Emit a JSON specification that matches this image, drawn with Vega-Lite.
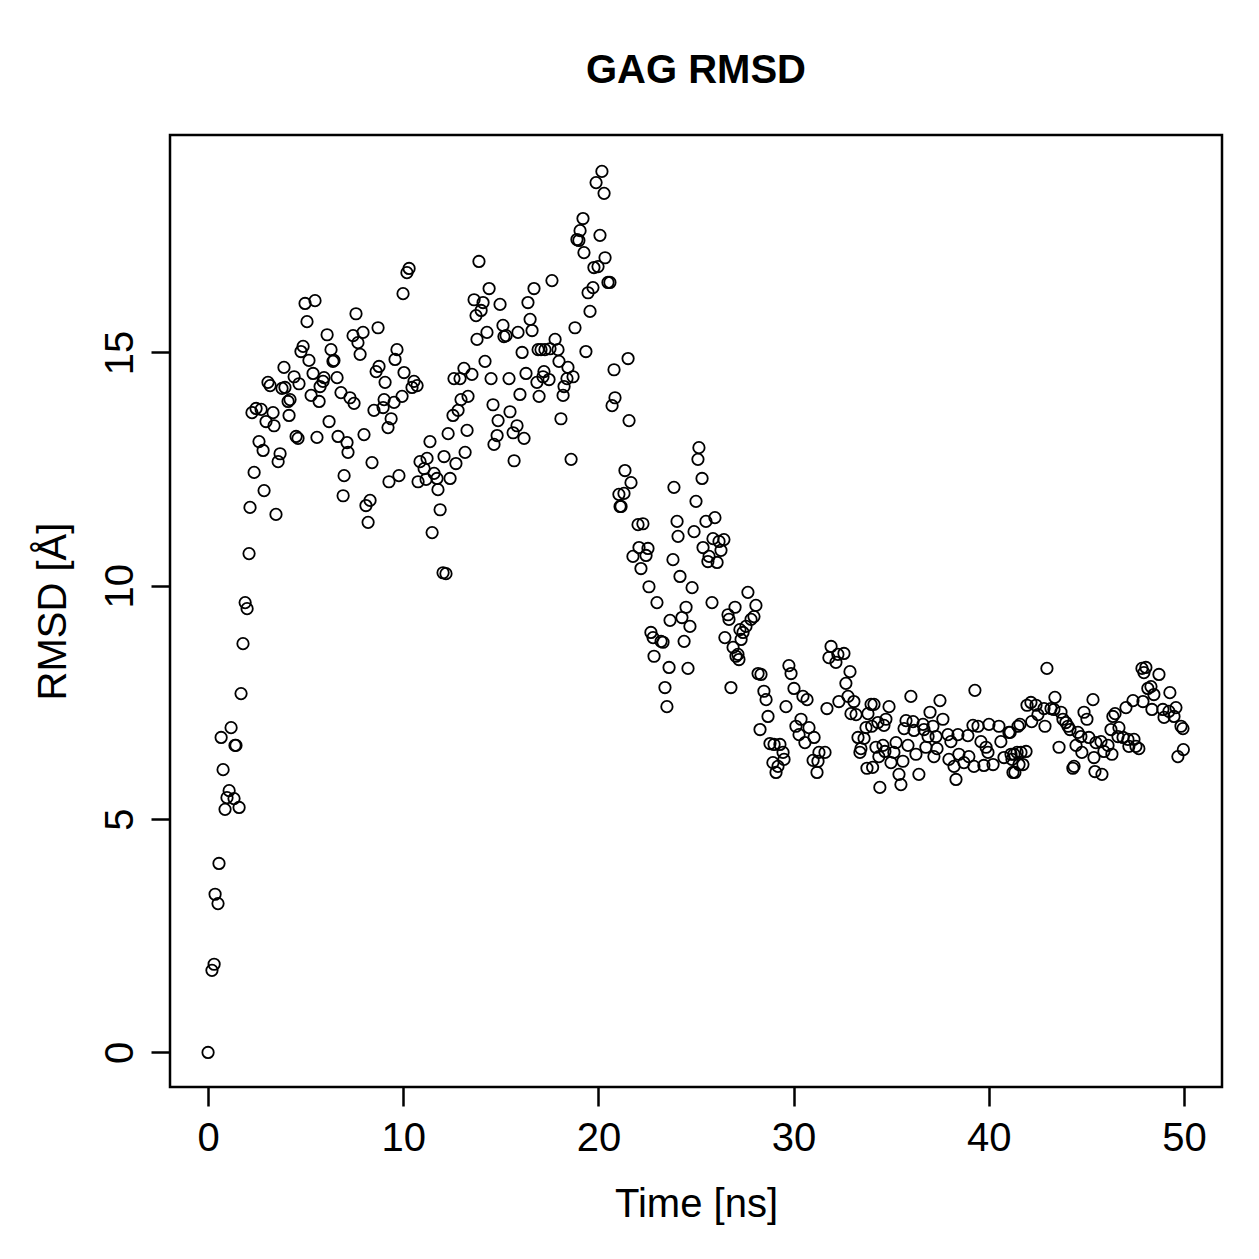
{
  "$schema": "https://vega.github.io/schema/vega-lite/v6.json",
  "width": 1052,
  "height": 952,
  "autosize": {"type": "none"},
  "padding": {"left": 170, "top": 135, "right": 37, "bottom": 172},
  "background": "white",
  "title": {
    "text": "GAG RMSD",
    "font": "Liberation Sans",
    "fontSize": 40,
    "fontWeight": "bold",
    "color": "black",
    "anchor": "middle",
    "baseline": "alphabetic",
    "offset": 12
  },
  "data": {
    "values": [
      {"t": 0.0, "r": 0.0}, {"t": 0.2, "r": 1.76}, {"t": 0.31, "r": 1.89}, {"t": 0.36, "r": 3.39}, {"t": 0.51, "r": 3.19},
      {"t": 0.56, "r": 4.05}, {"t": 0.67, "r": 6.75}, {"t": 0.77, "r": 6.06}, {"t": 0.87, "r": 5.21}, {"t": 0.97, "r": 5.46},
      {"t": 1.08, "r": 5.61}, {"t": 1.18, "r": 6.96}, {"t": 1.33, "r": 5.44}, {"t": 1.38, "r": 6.58}, {"t": 1.43, "r": 6.58},
      {"t": 1.59, "r": 5.25}, {"t": 1.69, "r": 7.69}, {"t": 1.79, "r": 8.76}, {"t": 1.9, "r": 9.64}, {"t": 2.0, "r": 9.51},
      {"t": 2.1, "r": 10.69}, {"t": 2.15, "r": 11.68}, {"t": 2.25, "r": 13.71}, {"t": 2.36, "r": 12.43}, {"t": 2.46, "r": 13.8},
      {"t": 2.61, "r": 13.09}, {"t": 2.72, "r": 13.78}, {"t": 2.82, "r": 12.9}, {"t": 2.87, "r": 12.04}, {"t": 2.97, "r": 13.52},
      {"t": 3.07, "r": 14.36}, {"t": 3.18, "r": 14.29}, {"t": 3.33, "r": 13.71}, {"t": 3.38, "r": 13.43}, {"t": 3.48, "r": 11.53},
      {"t": 3.59, "r": 12.66}, {"t": 3.69, "r": 12.83}, {"t": 3.79, "r": 14.23}, {"t": 3.89, "r": 14.68}, {"t": 3.94, "r": 14.25},
      {"t": 4.1, "r": 13.95}, {"t": 4.15, "r": 13.65}, {"t": 4.2, "r": 13.99}, {"t": 4.41, "r": 14.48}, {"t": 4.51, "r": 13.2},
      {"t": 4.61, "r": 13.16}, {"t": 4.66, "r": 14.33}, {"t": 4.76, "r": 15.02}, {"t": 4.87, "r": 15.13}, {"t": 4.97, "r": 16.05},
      {"t": 5.07, "r": 15.66}, {"t": 5.17, "r": 14.83}, {"t": 5.28, "r": 14.08}, {"t": 5.38, "r": 14.55}, {"t": 5.48, "r": 16.11},
      {"t": 5.58, "r": 13.18}, {"t": 5.69, "r": 13.95}, {"t": 5.74, "r": 14.27}, {"t": 5.89, "r": 14.38}, {"t": 5.94, "r": 14.46},
      {"t": 6.1, "r": 15.38}, {"t": 6.2, "r": 13.52}, {"t": 6.3, "r": 15.06}, {"t": 6.4, "r": 14.81}, {"t": 6.45, "r": 14.83},
      {"t": 6.61, "r": 14.46}, {"t": 6.66, "r": 13.2}, {"t": 6.81, "r": 14.14}, {"t": 6.92, "r": 11.93}, {"t": 6.97, "r": 12.36},
      {"t": 7.12, "r": 13.07}, {"t": 7.17, "r": 12.86}, {"t": 7.27, "r": 14.03}, {"t": 7.43, "r": 15.36}, {"t": 7.48, "r": 13.91},
      {"t": 7.58, "r": 15.83}, {"t": 7.68, "r": 15.21}, {"t": 7.79, "r": 14.96}, {"t": 7.94, "r": 15.43}, {"t": 7.99, "r": 13.24},
      {"t": 8.09, "r": 11.72}, {"t": 8.2, "r": 11.36}, {"t": 8.3, "r": 11.83}, {"t": 8.4, "r": 12.64}, {"t": 8.5, "r": 13.76},
      {"t": 8.61, "r": 14.59}, {"t": 8.71, "r": 15.53}, {"t": 8.76, "r": 14.7}, {"t": 8.97, "r": 13.82}, {"t": 9.02, "r": 13.99},
      {"t": 9.07, "r": 14.36}, {"t": 9.22, "r": 13.39}, {"t": 9.27, "r": 12.23}, {"t": 9.38, "r": 13.58}, {"t": 9.53, "r": 13.93},
      {"t": 9.58, "r": 14.85}, {"t": 9.68, "r": 15.06}, {"t": 9.78, "r": 12.36}, {"t": 9.94, "r": 14.06}, {"t": 9.99, "r": 16.26},
      {"t": 10.04, "r": 14.57}, {"t": 10.19, "r": 16.71}, {"t": 10.3, "r": 16.8}, {"t": 10.45, "r": 14.25}, {"t": 10.55, "r": 14.38},
      {"t": 10.71, "r": 14.29}, {"t": 10.76, "r": 12.23}, {"t": 10.86, "r": 12.66}, {"t": 11.07, "r": 12.51}, {"t": 11.22, "r": 12.73},
      {"t": 11.17, "r": 12.28}, {"t": 11.37, "r": 13.09}, {"t": 11.48, "r": 11.14}, {"t": 11.58, "r": 12.41}, {"t": 11.73, "r": 12.3},
      {"t": 11.78, "r": 12.06}, {"t": 11.89, "r": 11.63}, {"t": 12.04, "r": 10.28}, {"t": 12.09, "r": 12.77}, {"t": 12.19, "r": 10.26},
      {"t": 12.3, "r": 13.26}, {"t": 12.4, "r": 12.3}, {"t": 12.55, "r": 13.65}, {"t": 12.6, "r": 14.44}, {"t": 12.7, "r": 12.62},
      {"t": 12.81, "r": 13.76}, {"t": 12.91, "r": 14.44}, {"t": 12.96, "r": 13.99}, {"t": 13.11, "r": 14.66}, {"t": 13.17, "r": 12.86},
      {"t": 13.27, "r": 13.33}, {"t": 13.32, "r": 14.06}, {"t": 13.52, "r": 14.53}, {"t": 13.63, "r": 16.13}, {"t": 13.73, "r": 15.79},
      {"t": 13.78, "r": 15.28}, {"t": 13.88, "r": 16.95}, {"t": 13.99, "r": 15.9}, {"t": 14.09, "r": 16.07}, {"t": 14.19, "r": 14.81},
      {"t": 14.29, "r": 15.43}, {"t": 14.4, "r": 16.37}, {"t": 14.5, "r": 14.44}, {"t": 14.6, "r": 13.88}, {"t": 14.65, "r": 13.03},
      {"t": 14.81, "r": 13.22}, {"t": 14.86, "r": 13.54}, {"t": 14.96, "r": 16.03}, {"t": 15.11, "r": 15.58}, {"t": 15.16, "r": 15.34},
      {"t": 15.27, "r": 15.36}, {"t": 15.42, "r": 14.44}, {"t": 15.47, "r": 13.73}, {"t": 15.63, "r": 13.28}, {"t": 15.68, "r": 12.68},
      {"t": 15.83, "r": 13.43}, {"t": 15.88, "r": 15.43}, {"t": 15.98, "r": 14.1}, {"t": 16.09, "r": 15.0}, {"t": 16.19, "r": 13.16},
      {"t": 16.29, "r": 14.55}, {"t": 16.39, "r": 16.07}, {"t": 16.5, "r": 15.71}, {"t": 16.6, "r": 15.47}, {"t": 16.7, "r": 16.37},
      {"t": 16.85, "r": 14.36}, {"t": 16.91, "r": 15.06}, {"t": 16.96, "r": 14.06}, {"t": 17.06, "r": 15.06}, {"t": 17.16, "r": 14.48},
      {"t": 17.21, "r": 14.59}, {"t": 17.26, "r": 15.06}, {"t": 17.52, "r": 15.08}, {"t": 17.47, "r": 14.42}, {"t": 17.62, "r": 16.54},
      {"t": 17.78, "r": 15.28}, {"t": 17.93, "r": 15.06}, {"t": 17.98, "r": 14.81}, {"t": 18.08, "r": 13.58}, {"t": 18.19, "r": 14.08},
      {"t": 18.24, "r": 14.27}, {"t": 18.44, "r": 14.68}, {"t": 18.39, "r": 14.44}, {"t": 18.6, "r": 12.71}, {"t": 18.7, "r": 14.48},
      {"t": 18.8, "r": 15.53}, {"t": 18.9, "r": 17.42}, {"t": 19.0, "r": 17.4}, {"t": 19.06, "r": 17.61}, {"t": 19.21, "r": 17.87},
      {"t": 19.26, "r": 17.14}, {"t": 19.36, "r": 15.02}, {"t": 19.47, "r": 16.28}, {"t": 19.57, "r": 15.88}, {"t": 19.72, "r": 16.39},
      {"t": 19.77, "r": 16.82}, {"t": 19.88, "r": 18.64}, {"t": 19.98, "r": 16.84}, {"t": 20.08, "r": 17.51}, {"t": 20.18, "r": 18.88},
      {"t": 20.29, "r": 18.41}, {"t": 20.34, "r": 17.03}, {"t": 20.49, "r": 16.5}, {"t": 20.59, "r": 16.5}, {"t": 20.7, "r": 13.86},
      {"t": 20.8, "r": 14.63}, {"t": 20.85, "r": 14.03}, {"t": 21.05, "r": 11.96}, {"t": 21.11, "r": 11.7}, {"t": 21.16, "r": 11.7},
      {"t": 21.31, "r": 11.98}, {"t": 21.36, "r": 12.47}, {"t": 21.52, "r": 14.87}, {"t": 21.57, "r": 13.54}, {"t": 21.67, "r": 12.21},
      {"t": 21.77, "r": 10.63}, {"t": 22.03, "r": 11.31}, {"t": 22.08, "r": 10.82}, {"t": 22.18, "r": 10.37}, {"t": 22.28, "r": 11.33},
      {"t": 22.44, "r": 10.65}, {"t": 22.54, "r": 10.8}, {"t": 22.59, "r": 9.98}, {"t": 22.69, "r": 9.0}, {"t": 22.8, "r": 8.89},
      {"t": 22.85, "r": 8.49}, {"t": 23.0, "r": 9.64}, {"t": 23.21, "r": 8.81}, {"t": 23.31, "r": 8.79}, {"t": 23.41, "r": 7.82},
      {"t": 23.51, "r": 7.41}, {"t": 23.62, "r": 8.25}, {"t": 23.67, "r": 9.26}, {"t": 23.82, "r": 10.56}, {"t": 23.87, "r": 12.11},
      {"t": 24.03, "r": 11.38}, {"t": 24.08, "r": 11.06}, {"t": 24.18, "r": 10.2}, {"t": 24.28, "r": 9.32}, {"t": 24.39, "r": 8.81},
      {"t": 24.49, "r": 9.54}, {"t": 24.59, "r": 8.23}, {"t": 24.69, "r": 9.13}, {"t": 24.8, "r": 9.96}, {"t": 24.9, "r": 11.16},
      {"t": 25.0, "r": 11.81}, {"t": 25.1, "r": 12.71}, {"t": 25.15, "r": 12.96}, {"t": 25.31, "r": 12.3}, {"t": 25.36, "r": 10.82},
      {"t": 25.51, "r": 11.38}, {"t": 25.61, "r": 10.52}, {"t": 25.67, "r": 10.63}, {"t": 25.82, "r": 9.64}, {"t": 25.87, "r": 11.01},
      {"t": 25.97, "r": 11.46}, {"t": 26.08, "r": 10.5}, {"t": 26.18, "r": 10.95}, {"t": 26.28, "r": 10.76}, {"t": 26.43, "r": 10.99},
      {"t": 26.48, "r": 8.89}, {"t": 26.64, "r": 9.38}, {"t": 26.69, "r": 9.28}, {"t": 26.79, "r": 7.82}, {"t": 26.9, "r": 8.68},
      {"t": 27.0, "r": 9.54}, {"t": 27.05, "r": 8.49}, {"t": 27.15, "r": 8.53}, {"t": 27.2, "r": 8.42}, {"t": 27.25, "r": 9.06},
      {"t": 27.31, "r": 8.85}, {"t": 27.41, "r": 9.0}, {"t": 27.56, "r": 9.13}, {"t": 27.66, "r": 9.86}, {"t": 27.82, "r": 9.28},
      {"t": 27.97, "r": 9.34}, {"t": 28.07, "r": 9.58}, {"t": 28.18, "r": 8.12}, {"t": 28.28, "r": 6.92}, {"t": 28.33, "r": 8.1},
      {"t": 28.48, "r": 7.74}, {"t": 28.59, "r": 7.56}, {"t": 28.69, "r": 7.2}, {"t": 28.79, "r": 6.62}, {"t": 28.94, "r": 6.21},
      {"t": 29.0, "r": 6.6}, {"t": 29.1, "r": 6.0}, {"t": 29.2, "r": 6.13}, {"t": 29.3, "r": 6.6}, {"t": 29.46, "r": 6.43},
      {"t": 29.51, "r": 6.28}, {"t": 29.61, "r": 7.41}, {"t": 29.76, "r": 8.29}, {"t": 29.87, "r": 8.12}, {"t": 30.02, "r": 7.8},
      {"t": 30.12, "r": 6.99}, {"t": 30.28, "r": 6.81}, {"t": 30.38, "r": 7.14}, {"t": 30.48, "r": 7.63}, {"t": 30.58, "r": 6.64},
      {"t": 30.69, "r": 7.56}, {"t": 30.79, "r": 6.96}, {"t": 31.0, "r": 6.26}, {"t": 31.05, "r": 6.75}, {"t": 31.2, "r": 6.0},
      {"t": 31.25, "r": 6.24}, {"t": 31.3, "r": 6.43}, {"t": 31.61, "r": 6.43}, {"t": 31.71, "r": 7.37}, {"t": 31.81, "r": 8.46},
      {"t": 31.92, "r": 8.7}, {"t": 32.17, "r": 8.36}, {"t": 32.27, "r": 8.53}, {"t": 32.32, "r": 7.52}, {"t": 32.58, "r": 8.55},
      {"t": 32.68, "r": 7.91}, {"t": 32.79, "r": 7.63}, {"t": 32.89, "r": 8.16}, {"t": 32.94, "r": 7.26}, {"t": 33.09, "r": 7.52},
      {"t": 33.2, "r": 7.24}, {"t": 33.3, "r": 6.75}, {"t": 33.4, "r": 6.43}, {"t": 33.45, "r": 6.51}, {"t": 33.61, "r": 6.73},
      {"t": 33.71, "r": 6.96}, {"t": 33.76, "r": 6.09}, {"t": 33.81, "r": 7.26}, {"t": 33.97, "r": 7.46}, {"t": 34.0, "r": 6.99},
      {"t": 34.05, "r": 6.11}, {"t": 34.12, "r": 7.46}, {"t": 34.22, "r": 6.54}, {"t": 34.32, "r": 7.07}, {"t": 34.37, "r": 6.34},
      {"t": 34.42, "r": 5.68}, {"t": 34.58, "r": 6.58}, {"t": 34.63, "r": 7.01}, {"t": 34.68, "r": 6.45}, {"t": 34.73, "r": 7.14},
      {"t": 34.89, "r": 7.41}, {"t": 34.99, "r": 6.21}, {"t": 35.14, "r": 6.43}, {"t": 35.25, "r": 6.64}, {"t": 35.4, "r": 5.96},
      {"t": 35.5, "r": 5.74}, {"t": 35.6, "r": 6.24}, {"t": 35.66, "r": 6.94}, {"t": 35.76, "r": 7.11}, {"t": 35.86, "r": 6.58},
      {"t": 36.01, "r": 7.63}, {"t": 36.12, "r": 7.09}, {"t": 36.17, "r": 6.9}, {"t": 36.27, "r": 6.39}, {"t": 36.42, "r": 5.96},
      {"t": 36.63, "r": 7.03}, {"t": 36.68, "r": 6.92}, {"t": 36.78, "r": 6.54}, {"t": 36.89, "r": 6.77}, {"t": 36.99, "r": 7.29},
      {"t": 37.14, "r": 6.99}, {"t": 37.19, "r": 6.34}, {"t": 37.3, "r": 6.77}, {"t": 37.35, "r": 6.51}, {"t": 37.5, "r": 7.54},
      {"t": 37.65, "r": 7.14}, {"t": 37.91, "r": 6.81}, {"t": 37.96, "r": 6.28}, {"t": 38.06, "r": 6.66}, {"t": 38.22, "r": 6.13},
      {"t": 38.32, "r": 5.85}, {"t": 38.42, "r": 6.81}, {"t": 38.47, "r": 6.39}, {"t": 38.73, "r": 6.21}, {"t": 38.93, "r": 6.79},
      {"t": 38.98, "r": 6.34}, {"t": 39.19, "r": 7.01}, {"t": 39.24, "r": 6.13}, {"t": 39.29, "r": 7.76}, {"t": 39.45, "r": 6.99},
      {"t": 39.6, "r": 6.66}, {"t": 39.75, "r": 6.15}, {"t": 39.86, "r": 6.54}, {"t": 39.96, "r": 6.43}, {"t": 40.01, "r": 7.03},
      {"t": 40.22, "r": 6.17}, {"t": 40.52, "r": 6.99}, {"t": 40.62, "r": 6.66}, {"t": 40.78, "r": 6.32}, {"t": 41.03, "r": 6.86},
      {"t": 41.1, "r": 6.86}, {"t": 41.14, "r": 6.39}, {"t": 41.19, "r": 6.28}, {"t": 41.24, "r": 6.0}, {"t": 41.29, "r": 6.39},
      {"t": 41.34, "r": 6.0}, {"t": 41.45, "r": 6.43}, {"t": 41.5, "r": 6.99}, {"t": 41.55, "r": 6.17}, {"t": 41.6, "r": 7.03},
      {"t": 41.65, "r": 6.43}, {"t": 41.75, "r": 6.17}, {"t": 41.91, "r": 6.45}, {"t": 41.96, "r": 7.44}, {"t": 42.16, "r": 7.5},
      {"t": 42.2, "r": 7.09}, {"t": 42.42, "r": 7.44}, {"t": 42.52, "r": 7.24}, {"t": 42.83, "r": 7.37}, {"t": 42.88, "r": 6.99},
      {"t": 42.98, "r": 8.23}, {"t": 43.19, "r": 7.37}, {"t": 43.34, "r": 7.35}, {"t": 43.39, "r": 7.61}, {"t": 43.6, "r": 6.54},
      {"t": 43.7, "r": 7.29}, {"t": 43.8, "r": 7.14}, {"t": 43.95, "r": 7.07}, {"t": 44.06, "r": 6.99}, {"t": 44.16, "r": 6.92},
      {"t": 44.31, "r": 6.09}, {"t": 44.37, "r": 6.13}, {"t": 44.47, "r": 6.58}, {"t": 44.57, "r": 6.86}, {"t": 44.72, "r": 6.77},
      {"t": 44.77, "r": 6.43}, {"t": 44.88, "r": 7.29}, {"t": 45.03, "r": 7.14}, {"t": 45.13, "r": 6.75}, {"t": 45.34, "r": 7.56},
      {"t": 45.39, "r": 6.32}, {"t": 45.44, "r": 6.02}, {"t": 45.49, "r": 6.64}, {"t": 45.75, "r": 6.66}, {"t": 45.8, "r": 5.96},
      {"t": 45.9, "r": 6.45}, {"t": 46.11, "r": 6.58}, {"t": 46.26, "r": 6.92}, {"t": 46.31, "r": 6.39}, {"t": 46.36, "r": 7.2},
      {"t": 46.47, "r": 7.26}, {"t": 46.62, "r": 6.77}, {"t": 46.67, "r": 6.96}, {"t": 46.88, "r": 6.75}, {"t": 47.03, "r": 7.39},
      {"t": 47.13, "r": 6.71}, {"t": 47.18, "r": 6.56}, {"t": 47.39, "r": 7.54}, {"t": 47.44, "r": 6.71}, {"t": 47.54, "r": 6.56},
      {"t": 47.69, "r": 6.51}, {"t": 47.85, "r": 8.23}, {"t": 47.9, "r": 7.52}, {"t": 47.95, "r": 8.14}, {"t": 48.05, "r": 8.25},
      {"t": 48.15, "r": 7.8}, {"t": 48.31, "r": 7.84}, {"t": 48.36, "r": 7.35}, {"t": 48.46, "r": 7.67}, {"t": 48.72, "r": 8.1},
      {"t": 48.92, "r": 7.35}, {"t": 48.98, "r": 7.18}, {"t": 49.23, "r": 7.31}, {"t": 49.28, "r": 7.71}, {"t": 49.49, "r": 7.2},
      {"t": 49.59, "r": 7.39}, {"t": 49.69, "r": 6.34}, {"t": 49.85, "r": 6.99}, {"t": 49.95, "r": 6.94}, {"t": 49.97, "r": 6.49}
    ]
  },
  "mark": {
    "type": "point",
    "shape": "circle",
    "filled": false,
    "size": 130,
    "strokeWidth": 1.8,
    "color": "black",
    "opacity": 1
  },
  "encoding": {
    "x": {
      "field": "t",
      "type": "quantitative",
      "scale": {"domain": [-1.95, 51.95], "nice": false, "zero": false},
      "axis": {
        "values": [0, 10, 20, 30, 40, 50],
        "labelBaseline": "alphabetic",
        "labelPadding": 44,
        "title": "Time [ns]",
        "titleX": 526,
        "titleY": 129,
        "titleAlign": "center",
        "titleBaseline": "alphabetic"
      }
    },
    "y": {
      "field": "r",
      "type": "quantitative",
      "scale": {"domain": [-0.74, 19.66], "nice": false, "zero": false},
      "axis": {
        "values": [0, 5, 10, 15],
        "labelAngle": -90,
        "labelAlign": "center",
        "labelBaseline": "alphabetic",
        "labelPadding": 19,
        "title": "RMSD [Å]",
        "titleAngle": -90,
        "titleX": -105,
        "titleY": 476,
        "titleAlign": "center",
        "titleBaseline": "alphabetic"
      }
    }
  },
  "config": {
    "view": {"stroke": "black", "strokeWidth": 2.5},
    "axis": {
      "grid": false,
      "domain": false,
      "ticks": true,
      "tickSize": 19,
      "tickWidth": 2.5,
      "tickColor": "black",
      "labelFont": "Liberation Sans",
      "labelFontSize": 40,
      "labelColor": "black",
      "labelFlush": false,
      "labelOverlap": false,
      "titleFont": "Liberation Sans",
      "titleFontSize": 40,
      "titleFontWeight": "normal",
      "titleColor": "black"
    }
  }
}
